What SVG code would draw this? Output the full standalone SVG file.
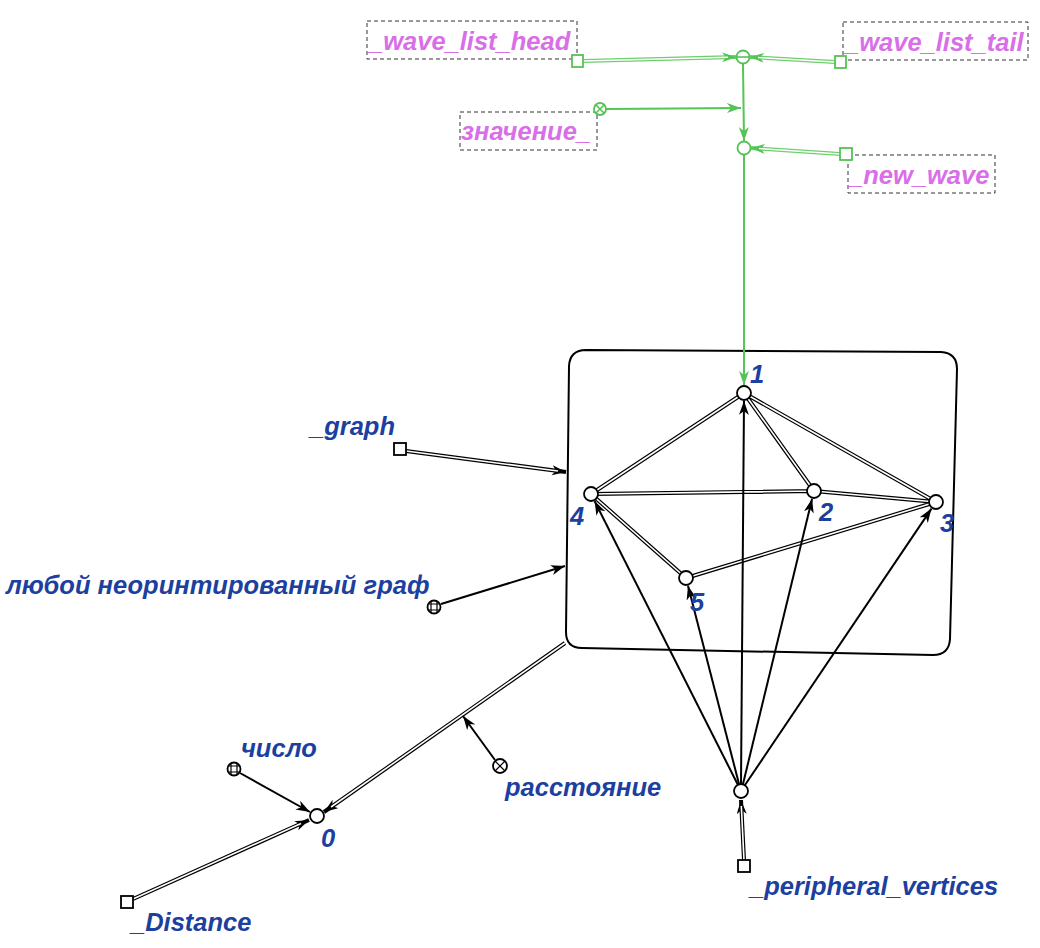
<svg xmlns="http://www.w3.org/2000/svg" width="1040" height="948" viewBox="0 0 1040 948">
<style>
.lb{font-family:"Liberation Sans",Arial,sans-serif;font-weight:bold;font-style:italic;font-size:25.5px;fill:#1c3fa0}
.lm{font-family:"Liberation Sans",Arial,sans-serif;font-weight:bold;font-style:italic;font-size:25.5px;fill:#d86ee8}
.nd{fill:#fff;stroke:#000;stroke-width:1.8}
.ng{fill:#fff;stroke:#55c355;stroke-width:1.8}
.sq{fill:#fff;stroke:#000;stroke-width:1.8}
.sqg{fill:#fff;stroke:#55c355;stroke-width:1.8}
.dash{fill:none;stroke:#333;stroke-width:1;stroke-dasharray:4,3}
.a{stroke:#000;stroke-width:2;fill:none}
.dbo{stroke:#000;stroke-width:4;fill:none}
.dbi{stroke:#fff;stroke-width:1.6;fill:none}
.ga{stroke:#55c355;stroke-width:2;fill:none}
.gdo{stroke:#6fcf6f;stroke-width:4;fill:none}
.gdi{stroke:#fff;stroke-width:1.4;fill:none}
.ln{stroke:#000;stroke-width:1.2;fill:none}
.lng{stroke:#55c355;stroke-width:1.6;fill:none}
</style>
<defs>
<marker id="ah" markerUnits="userSpaceOnUse" markerWidth="16" markerHeight="12" refX="14" refY="5" orient="auto">
<path d="M0,0 L14,5 L0,10 L4,5 z" fill="#000"/>
</marker>
<marker id="ahg" markerUnits="userSpaceOnUse" markerWidth="16" markerHeight="12" refX="14" refY="5" orient="auto">
<path d="M0,0 L14,5 L0,10 L4,5 z" fill="#55c355"/>
</marker>
</defs>

<g id="contour">
<path d="M586,350 L941,352 Q957,353 957,369 L950,639 Q949,655 933,655 L582,648 Q566,648 566,632 L569,366 Q570,350 586,350 Z" fill="none" stroke="#000" stroke-width="2"/>
</g>

<g id="connectors">
<g>
<path class="dbo" d="M744,393 L591,494 M744,393 L814,491 M744,393 L936,502 M591,494 L814,491 M814,491 L936,502 M591,494 L686,578 M686,578 L936,502"/>
<path class="dbi" d="M744,393 L591,494 M744,393 L814,491 M744,393 L936,502 M591,494 L814,491 M814,491 L936,502 M591,494 L686,578 M686,578 L936,502"/>
</g>
<line class="a" x1="741" y1="784" x2="744" y2="401" marker-end="url(#ah)"/>
<line class="a" x1="738" y1="785" x2="594.6" y2="501.1" marker-end="url(#ah)"/>
<line class="a" x1="739" y1="784" x2="688" y2="585.7" marker-end="url(#ah)"/>
<line class="a" x1="743" y1="784" x2="812.1" y2="498.8" marker-end="url(#ah)"/>
<line class="a" x1="745" y1="785" x2="931.5" y2="508.6" marker-end="url(#ah)"/>
<line class="dbo" x1="744" y1="860" x2="741" y2="800" marker-end="url(#ah)"/>
<line class="dbi" x1="744" y1="860" x2="741.3" y2="806"/>
<line class="dbo" x1="406" y1="451" x2="566" y2="472" marker-end="url(#ah)"/>
<line class="dbi" x1="406" y1="451" x2="558" y2="471"/>
<line class="a" x1="441" y1="604" x2="565" y2="566" marker-end="url(#ah)"/>
<line class="dbo" x1="565" y1="643" x2="324" y2="812" marker-end="url(#ah)"/>
<line class="dbi" x1="565" y1="643" x2="331" y2="807"/>
<line class="a" x1="495" y1="760" x2="463" y2="716" marker-end="url(#ah)"/>
<line class="a" x1="240" y1="773" x2="310" y2="812" marker-end="url(#ah)"/>
<line class="dbo" x1="133" y1="899" x2="309" y2="820" marker-end="url(#ah)"/>
<line class="dbi" x1="133" y1="899" x2="301" y2="823.5"/>

<line class="gdo" x1="583" y1="61" x2="736" y2="57" marker-end="url(#ahg)"/>
<line class="gdi" x1="583" y1="61" x2="728" y2="57.2"/>
<line class="gdo" x1="835" y1="62" x2="750" y2="57" marker-end="url(#ahg)"/>
<line class="gdi" x1="835" y1="62" x2="758" y2="57.5"/>
<line class="ga" x1="606" y1="109" x2="741" y2="108" marker-end="url(#ahg)"/>
<line class="ga" x1="743" y1="64" x2="744" y2="141" marker-end="url(#ahg)"/>
<line class="gdo" x1="840" y1="154" x2="751" y2="148" marker-end="url(#ahg)"/>
<line class="gdi" x1="840" y1="154" x2="759" y2="148.5"/>
<line class="ga" x1="744" y1="155" x2="744" y2="385" marker-end="url(#ahg)"/>
</g>

<g id="n1"><circle class="nd" cx="744" cy="393" r="7"/><text class="lb" x="750" y="383">1</text></g>
<g id="n2"><circle class="nd" cx="814" cy="491" r="7"/><text class="lb" x="819" y="521">2</text></g>
<g id="n3"><circle class="nd" cx="936" cy="502" r="7"/><text class="lb" x="940" y="532">3</text></g>
<g id="n4"><circle class="nd" cx="591" cy="494" r="7"/><text class="lb" x="570" y="525">4</text></g>
<g id="n5"><circle class="nd" cx="686" cy="578" r="7"/><text class="lb" x="690" y="611">5</text></g>
<g id="set"><circle class="nd" cx="741" cy="791" r="7"/></g>
<g id="peripheral"><rect class="sq" x="738" y="860" width="12" height="12"/><text class="lb" x="750" y="895">_peripheral_vertices</text></g>
<g id="graph"><rect class="sq" x="394" y="443" width="12" height="12"/><text class="lb" x="310" y="435">_graph</text></g>
<g id="anygraph">
<circle class="nd" cx="434" cy="607" r="6.5"/>
<path class="ln" d="M431,601.5 V612.5 M437,601.5 V612.5 M428.5,604 H439.5 M428.5,610 H439.5"/>
<text class="lb" x="6" y="594">любой неоринтированный граф</text>
</g>
<g id="zero"><circle class="nd" cx="317" cy="816" r="7"/><text class="lb" x="321" y="847">0</text></g>
<g id="number">
<circle class="nd" cx="234" cy="769" r="6.5"/>
<path class="ln" d="M231,763.5 V774.5 M237,763.5 V774.5 M228.5,766 H239.5 M228.5,772 H239.5"/>
<text class="lb" x="241" y="757">число</text>
</g>
<g id="distance_rel">
<circle class="nd" cx="500" cy="766" r="7"/>
<path class="ln" d="M495,761 L505,771 M505,761 L495,771"/>
<text class="lb" x="505" y="796">расстояние</text>
</g>
<g id="Distance"><rect class="sq" x="121" y="896" width="12" height="12"/><text class="lb" x="131" y="931">_Distance</text></g>

<g id="wave_list_head"><rect class="dash" x="367" y="21" width="210" height="38"/><text class="lm" x="369" y="50">_wave_list_head</text><rect class="sqg" x="572" y="55" width="11" height="12"/></g>
<g id="wave_list_tail"><rect class="dash" x="843" y="22" width="185" height="38"/><text class="lm" x="845" y="51">_wave_list_tail</text><rect class="sqg" x="835" y="56" width="11" height="12"/></g>
<g id="value"><rect class="dash" x="460" y="112" width="137" height="38"/><text class="lm" x="461" y="140">значение_</text>
<circle class="ng" cx="600" cy="109" r="6"/><path class="lng" d="M596,105 L604,113 M604,105 L596,113"/></g>
<g id="new_wave"><rect class="dash" x="848" y="155" width="147" height="38"/><text class="lm" x="849" y="184">_new_wave</text><rect class="sqg" x="840" y="148" width="12" height="12"/></g>
<g id="minus"><circle class="ng" cx="743" cy="57" r="6.5"/><path class="lng" d="M736.5,57 H749.5"/></g>
<g id="result"><circle class="ng" cx="744" cy="148" r="6.5"/></g>
</svg>
